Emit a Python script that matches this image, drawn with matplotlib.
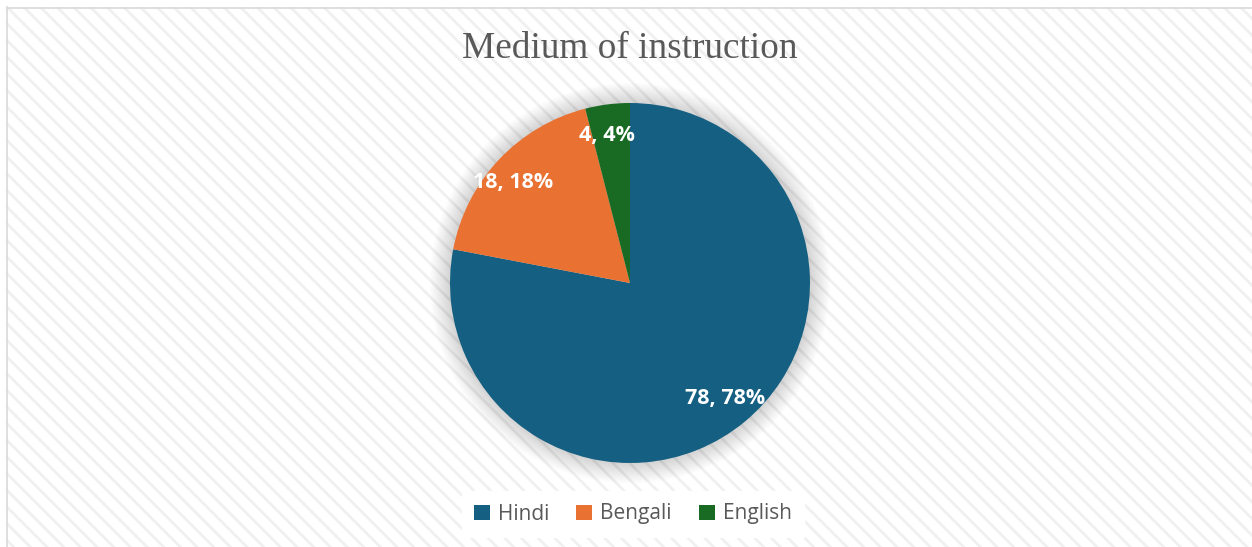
import matplotlib
matplotlib.use("Agg")
import numpy as np
import matplotlib.pyplot as plt
from matplotlib.patches import Rectangle, Circle
from matplotlib.lines import Line2D

# data
labels = ["Hindi", "Bengali", "English"]
values = [78, 18, 4]
colors = ["#156082", "#E97132", "#196B24"]
title = "Medium of instruction"

W, H = 1252, 547
fig = plt.figure(figsize=(W / 100, H / 100), dpi=100)
fig.patch.set_facecolor("white")

# hatched chart area background
plt.rcParams['hatch.color'] = '#f0f0f0'
plt.rcParams['hatch.linewidth'] = 2.0
bg = Rectangle((6 / W, 0), 1 - 6 / W, 1 - 7 / H, transform=fig.transFigure,
               facecolor="white", edgecolor="#f0f0f0", hatch="\\\\", lw=0, zorder=-10)
fig.patches.append(bg)
fig.lines.append(Line2D([6.5 / W, 6.5 / W], [0, 1 - 7 / H], transform=fig.transFigure,
                        color="#d9d9d9", lw=1.2, zorder=-5))
fig.lines.append(Line2D([6.5 / W, 1], [1 - 7.5 / H, 1 - 7.5 / H], transform=fig.transFigure,
                        color="#d9d9d9", lw=1.2, zorder=-5))

# pie axes: center (630, 283 from top), radius 180 px
cx, cy, r = 630, H - 283, 180
half = 220
ax = fig.add_axes([(cx - half) / W, (cy - half) / H, 2 * half / W, 2 * half / H])
ax.patch.set_alpha(0)
lim = half / r
ax.axis("off")

# soft shadow
n = 14
for i in range(n):
    ax.add_patch(Circle((0, 0.0), 1.0 + 0.008 * (n - i), color="black", alpha=0.012, lw=0, zorder=0))

wedges, texts, autotexts = ax.pie(
    values, colors=colors, startangle=90, counterclock=False, radius=1.0,
    autopct=lambda p: "{:d}, {:d}%".format(int(round(p)), int(round(p))),
    pctdistance=0.83, wedgeprops=dict(linewidth=0),
    textprops=dict(color="white", fontsize=15.5, fontweight="bold", family="Open Sans"),
)
for w in wedges:
    w.set_zorder(2)
# label placement: small angular nudge for the narrow slice
nudge = [0, 2.5, 1.5]
for w, t, d in zip(wedges, autotexts, nudge):
    t.set_zorder(3)
    ang = np.deg2rad((w.theta1 + w.theta2) / 2 + d)
    rad = 0.86 if d > 2 else 0.83
    t.set_position((rad * np.cos(ang), rad * np.sin(ang)))
ax.set_aspect("equal")
ax.set_xlim(-lim, lim)
ax.set_ylim(-lim, lim)

fig.text(cx / W, 1 - 49 / H, title, ha="center", va="center", fontsize=26.8,
         family="Liberation Serif", color="#595959")

leg = fig.legend(wedges, labels, loc="center", bbox_to_anchor=(633 / W, 33 / H), ncol=3,
                 frameon=True, fancybox=False, handlelength=0.75, handleheight=0.75,
                 handletextpad=0.4, columnspacing=1.3, borderpad=0.6,
                 prop=dict(family="Open Sans", size=15))
leg.get_frame().set_facecolor("white")
leg.get_frame().set_edgecolor("white")
leg.get_frame().set_alpha(1)
for t in leg.get_texts():
    t.set_color("#595959")

fig.savefig("out.png", dpi=100, facecolor="white")
